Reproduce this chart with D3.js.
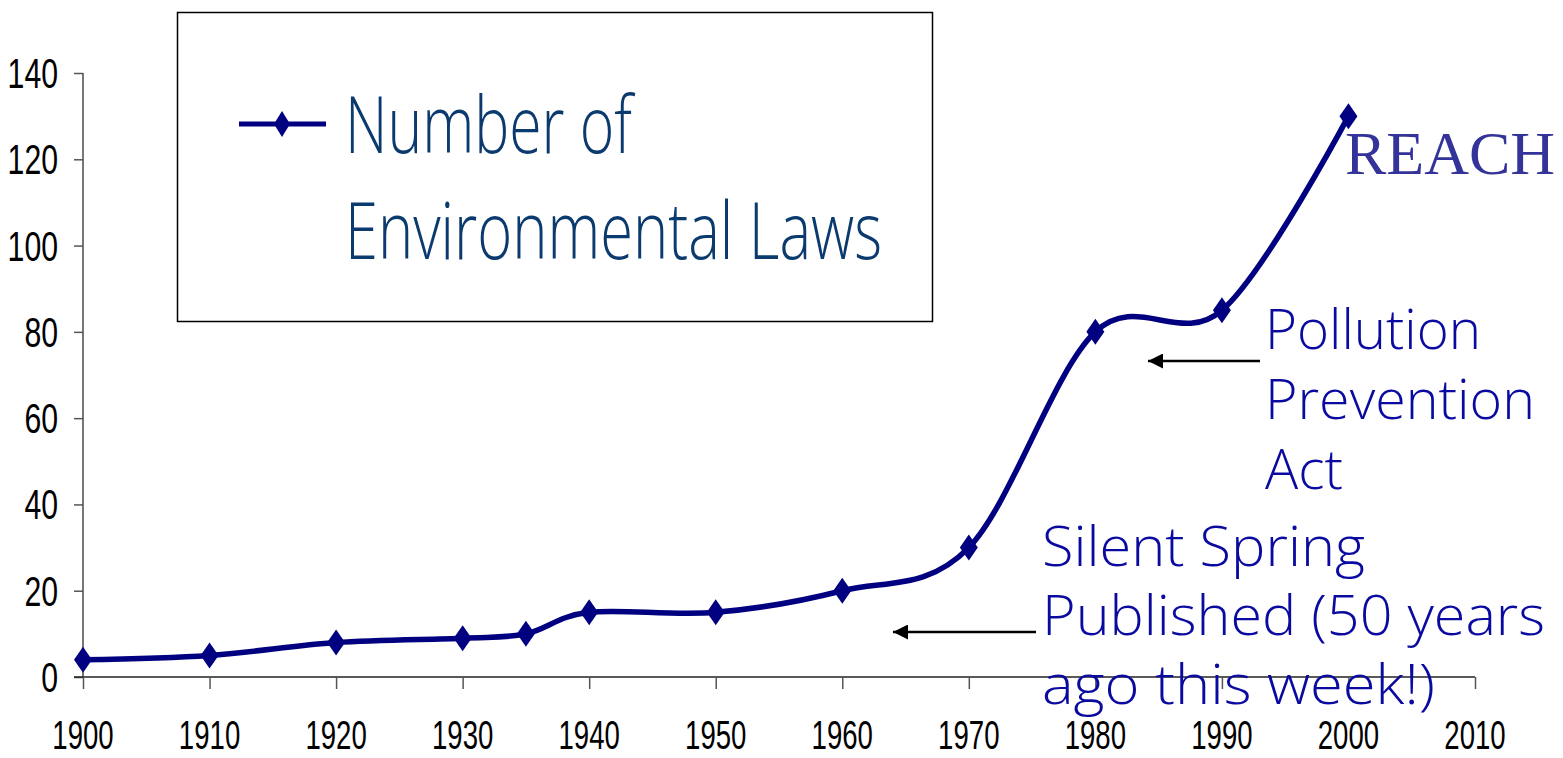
<!DOCTYPE html>
<html>
<head>
<meta charset="utf-8">
<script src="https://cdn.jsdelivr.net/npm/d3@7"></script>
<style>
  html, body { margin: 0; padding: 0; background: #fff; }
  svg { display: block; }
</style>
</head>
<body>
<svg id="chart" width="1563" height="758"></svg>
<script>
// Number of environmental laws by year
const years = [1900, 1910, 1920, 1930, 1935, 1940, 1950, 1960, 1970, 1980, 1990, 2000];
const laws  = [4, 5, 8, 9, 10, 15, 15, 20, 30, 80, 85, 130];

const xTickValues = [1900, 1910, 1920, 1930, 1940, 1950, 1960, 1970, 1980, 1990, 2000, 2010];
const yTickValues = [0, 20, 40, 60, 80, 100, 120, 140];

const legendLines = ["Number of", "Environmental Laws"];
const pollutionLines = ["Pollution", "Prevention", "Act"];
const springLines = ["Silent Spring", "Published (50 years", "ago this week!)"];
const reachLabel = "REACH";

const svg = d3.select("#chart");

const x = d3.scaleLinear().domain([1900, 2010]).range([83, 1475]);
const y = d3.scaleLinear().domain([0, 140]).range([677, 73]);

const tickFont = "'Liberation Sans Narrow', 'Arial Narrow', sans-serif";
const lineColor = "#000080";

// Y axis
const yAxis = svg.append("g").attr("transform", `translate(${x(1900)},0)`)
  .call(d3.axisLeft(y).tickValues(yTickValues).tickSize(9).tickFormat(""));
yAxis.select(".domain").attr("stroke", "#777").attr("stroke-width", 2).attr("d", `M0,${y(140)}V${y(0)}`);
yAxis.selectAll(".tick line").attr("stroke", "#555").attr("stroke-width", 1.5);

svg.append("g").selectAll("text").data(yTickValues).join("text")
  .attr("transform", d => `translate(58,${y(d) + 15}) scale(0.72,1)`)
  .attr("text-anchor", "end")
  .attr("font-family", tickFont)
  .attr("font-size", 42)
  .attr("fill", "#000")
  .text(d => d);

// X axis
const xAxis = svg.append("g").attr("transform", `translate(0,${y(0)})`)
  .call(d3.axisBottom(x).tickValues(xTickValues).tickSize(12).tickFormat(""));
xAxis.select(".domain").attr("stroke", "#222").attr("stroke-width", 1.5).attr("d", `M74,0H${x(2010)}`);
xAxis.selectAll(".tick line").attr("stroke", "#555").attr("stroke-width", 1.5);

svg.append("g").selectAll("text").data(xTickValues).join("text")
  .attr("transform", d => `translate(${x(d)},749) scale(0.69,1)`)
  .attr("text-anchor", "middle")
  .attr("font-family", tickFont)
  .attr("font-size", 40)
  .attr("fill", "#000")
  .text(d => d);

// Smoothed series line
const pts = years.map((yr, i) => [yr, laws[i]]);
const line = d3.line().x(d => x(d[0])).y(d => y(d[1])).curve(d3.curveCardinal.tension(0));
svg.append("path").datum(pts)
  .attr("d", line)
  .attr("fill", "none")
  .attr("stroke", lineColor)
  .attr("stroke-width", 5.5)
  .attr("stroke-linejoin", "round");

// Diamond markers
const diamond = "M0,-13L9,0L0,13L-9,0Z";
svg.append("g").selectAll("path").data(pts).join("path")
  .attr("transform", d => `translate(${x(d[0])},${y(d[1])})`)
  .attr("d", diamond)
  .attr("fill", lineColor);

// Legend box
const legend = svg.append("g");
legend.append("rect")
  .attr("x", 177.5).attr("y", 12.5).attr("width", 755).attr("height", 309)
  .attr("fill", "#fff").attr("stroke", "#000").attr("stroke-width", 1.5);
legend.append("line")
  .attr("x1", 239).attr("x2", 326).attr("y1", 124).attr("y2", 124)
  .attr("stroke", lineColor).attr("stroke-width", 5);
legend.append("path")
  .attr("transform", "translate(282,124)")
  .attr("d", "M0,-13L8,0L0,13L-8,0Z")
  .attr("fill", lineColor);
const legendWidths = [287, 537];
legend.selectAll("text.leg").data(legendLines).join("text")
  .attr("class", "leg")
  .attr("x", 345)
  .attr("y", (d, i) => 153 + i * 106)
  .attr("font-family", "'Open Sans', 'Noto Sans', sans-serif")
  .attr("font-weight", 300)
  .attr("font-size", 80)
  .attr("fill", "#0b3a6e")
  .attr("textLength", (d, i) => legendWidths[i])
  .attr("lengthAdjust", "spacingAndGlyphs")
  .text(d => d);

// Annotation arrows
svg.append("defs").append("marker")
  .attr("id", "arrowhead")
  .attr("viewBox", "0 0 10 10")
  .attr("refX", 10).attr("refY", 5)
  .attr("markerUnits", "userSpaceOnUse")
  .attr("markerWidth", 15).attr("markerHeight", 15)
  .attr("orient", "auto")
  .append("path").attr("d", "M0,0L10,5L0,10Z").attr("fill", "#000");

svg.append("line")
  .attr("x1", 1260).attr("x2", 1148).attr("y1", 361).attr("y2", 361)
  .attr("stroke", "#000").attr("stroke-width", 2.5)
  .attr("marker-end", "url(#arrowhead)");
svg.append("line")
  .attr("x1", 1036).attr("x2", 893).attr("y1", 632).attr("y2", 632)
  .attr("stroke", "#000").attr("stroke-width", 2.5)
  .attr("marker-end", "url(#arrowhead)");

// Annotation texts
const annoFont = "'Open Sans', 'Noto Sans', sans-serif";
const annoColor = "#0a0aa0";
const pollutionWidths = [216, 270, 78];
svg.append("g").selectAll("text").data(pollutionLines).join("text")
  .attr("x", 1265)
  .attr("y", (d, i) => 349 + i * 70)
  .attr("font-family", annoFont)
  .attr("font-weight", 300)
  .attr("font-size", 56)
  .attr("fill", annoColor)
  .attr("textLength", (d, i) => pollutionWidths[i])
  .attr("lengthAdjust", "spacingAndGlyphs")
  .text(d => d);

const springWidths = [323, 503, 393];
svg.append("g").selectAll("text").data(springLines).join("text")
  .attr("x", 1042)
  .attr("y", (d, i) => 566 + i * 69)
  .attr("font-family", annoFont)
  .attr("font-weight", 300)
  .attr("font-size", 56)
  .attr("fill", annoColor)
  .attr("textLength", (d, i) => springWidths[i])
  .attr("lengthAdjust", "spacingAndGlyphs")
  .text(d => d);

svg.append("text")
  .attr("x", 1345).attr("y", 174)
  .attr("font-family", "'Liberation Serif', 'Times New Roman', serif")
  .attr("font-size", 62)
  .attr("fill", "#333399")
  .text(reachLabel);
</script>
</body>
</html>
